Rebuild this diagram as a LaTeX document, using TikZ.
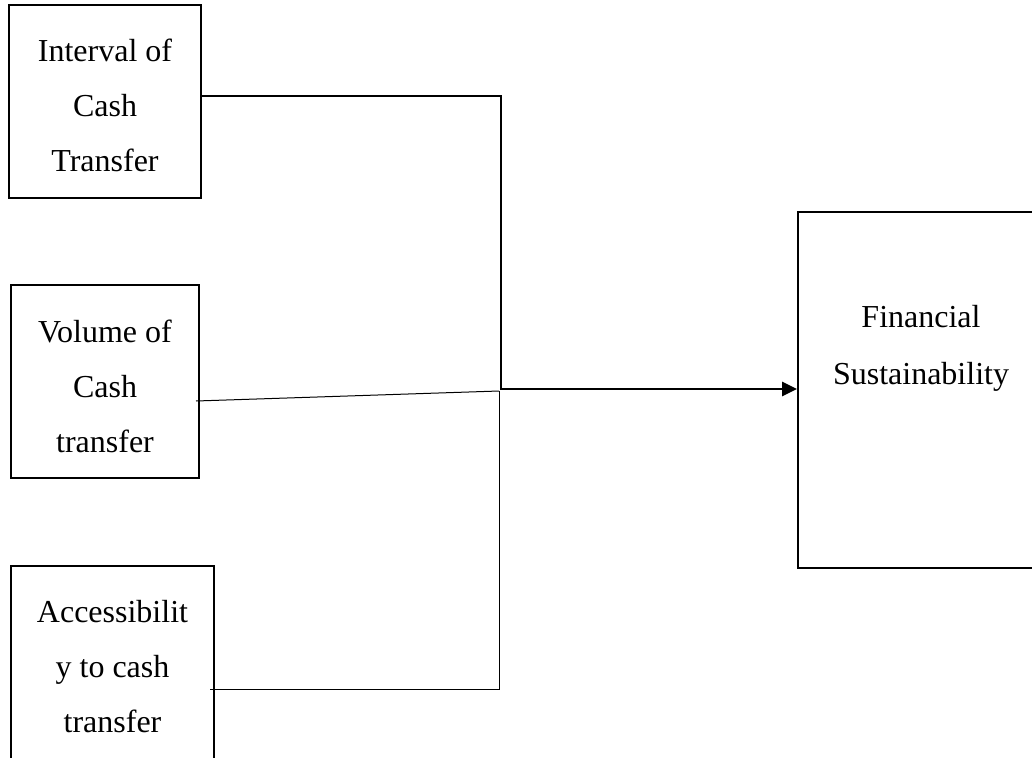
\documentclass[tikz,border=0pt]{standalone}
\usepackage{fontspec}
\setmainfont{Liberation Serif}
\usetikzlibrary{positioning,arrows.meta}

\tikzset{
  box/.style={draw, line width=2pt, inner sep=0pt},
  txt/.style={align=center, inner sep=0pt, font=\fontsize{32}{55}\selectfont},
  main/.style={line width=2.6pt},
  link/.style={line width=1pt},
}

\begin{document}
\begin{tikzpicture}[x=1pt, y=-1pt]
\useasboundingbox (0,0) rectangle (1032,757);
\clip (0,0) rectangle (1032,757);

%Nodes
\node[box, minimum width=192pt, minimum height=193pt] (Int) at (105,101.5) {};
\node[box, minimum width=188pt, minimum height=193pt] (Vol) at (105,381.5) {};
\node[box, minimum width=203pt, minimum height=193pt] (Acc) at (112.5,662.5) {};
\node[box, minimum width=246pt, minimum height=356pt] (Fin) at (921,390) {};

\node[txt]  (IntT)  [below=35pt of Int.north]  {Interval of\\Cash\\Transfer};
\node[txt]  (VolT)  [below=36pt of Vol.north]  {Volume of\\Cash\\transfer};
\node[txt]  (AccT)  [below=35pt of Acc.north]  {Accessibilit\\y to cash\\transfer};
\node[txt, font=\fontsize{32}{57}\selectfont]
            (FinT)  [below=94pt of Fin.north]  {Financial\\Sustainability};

\coordinate (hub)  at (501,389);
\coordinate (join) at (499,391);

%Lines
\draw[main, -{Triangle[length=15pt,width=14pt]}]
    ([yshift=5.5pt]Int.east) -| (hub) -- (hub -| Fin.west);
\draw[link] ([xshift=-4pt,yshift=-19.5pt]Vol.east) -- (join);
\draw[link] ([xshift=-5pt,yshift=-26.5pt]Acc.east) -| (join);
\end{tikzpicture}
\end{document}
